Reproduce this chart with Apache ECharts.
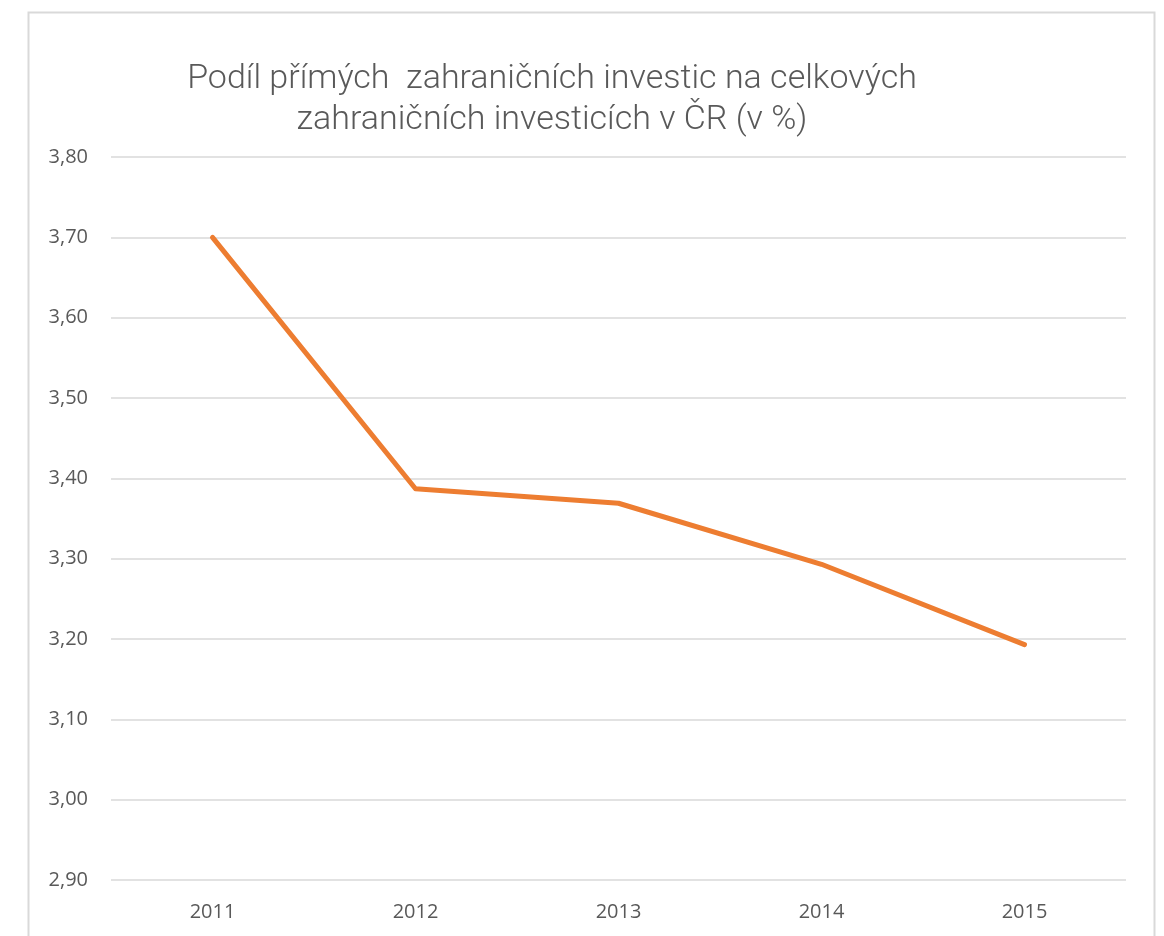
<!DOCTYPE html>
<html>
<head>
<meta charset="utf-8">
<script src="https://cdn.jsdelivr.net/npm/echarts@6/dist/echarts.min.js"></script>
<style>
  html, body { margin: 0; padding: 0; background: #fff; }
  #chart { width: 1164px; height: 936px; }
</style>
</head>
<body>
<div id="chart"></div>
<script>
// data
const years = ['2011', '2012', '2013', '2014', '2015']
const podil = [3.70, 3.387, 3.369, 3.293, 3.193]
const titleLines = ['Podíl přímých  zahraničních investic na celkových', 'zahraničních investicích v ČR (v %)']

const mychart = echarts.init(document.getElementById('chart'))

const option = {
    animation: false,
    title: {
        text: titleLines.join('\n'),
        left: 547,
        top: 54,
        textAlign: 'center',
        textStyle: {
            fontFamily: 'Roboto, sans-serif',
            fontWeight: 300,
            fontSize: 34,
            lineHeight: 41,
            color: '#595959'
        }
    },
    graphic: [{
        type: 'rect',
        shape: { x: 28.5, y: 12.5, width: 1126, height: 940 },
        style: { fill: 'none', stroke: '#d9d9d9', lineWidth: 2 },
        silent: true
    }],
    grid: { left: 111, right: 38, top: 157, bottom: 56 },
    xAxis: {
        type: 'category',
        data: years,
        boundaryGap: true,
        axisLine: { show: false },
        axisTick: { show: false },
        axisLabel: {
            fontFamily: 'Open Sans, sans-serif',
            fontSize: 20,
            color: '#595959',
            margin: 22
        }
    },
    yAxis: {
        type: 'value',
        min: 2.9,
        max: 3.8,
        interval: 0.1,
        axisLine: { show: false },
        axisTick: { show: false },
        splitLine: { lineStyle: { color: '#d9d9d9', width: 1.5 } },
        axisLabel: {
            fontFamily: 'Open Sans, sans-serif',
            fontSize: 20,
            color: '#595959',
            margin: 23,
            formatter: v => v.toFixed(2).replace('.', ',')
        }
    },
    series: [{
        type: 'line',
        data: podil,
        symbol: 'none',
        lineStyle: { color: '#ED7D31', width: 5, cap: 'round', join: 'round' }
    }]
}
mychart.setOption(option)
</script>
</body>
</html>
